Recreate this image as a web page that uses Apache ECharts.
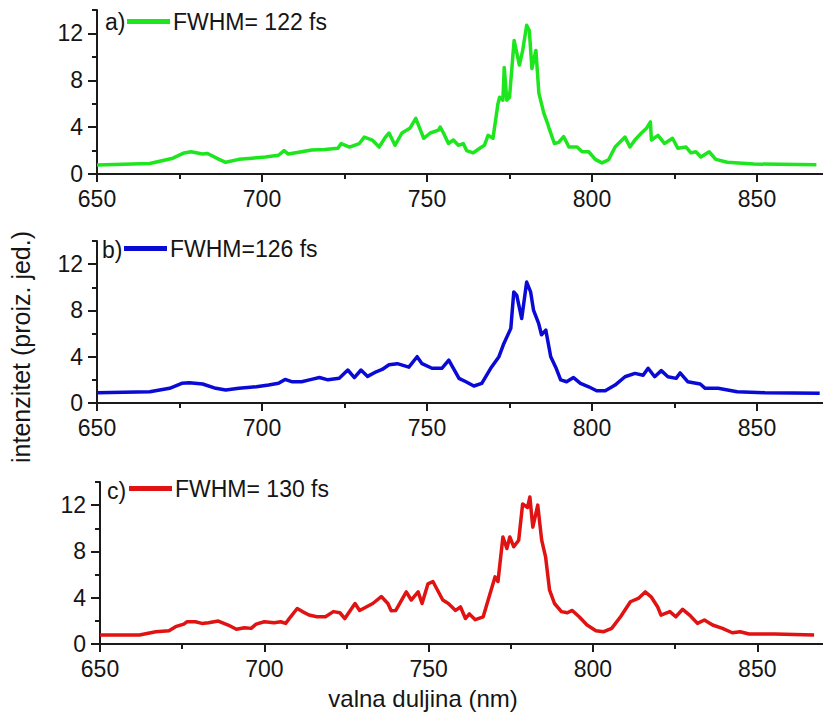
<!DOCTYPE html>
<html>
<head>
<meta charset="utf-8">
<script src="https://cdn.jsdelivr.net/npm/echarts@6/dist/echarts.min.js"></script>
<style>
html,body{margin:0;padding:0;background:#fff;}
#c{width:823px;height:713px;}
</style>
</head>
<body>
<div id="c"></div>
<script>
// ---- data ----
const wlA = [650,666,673,676.4,678.5,682,683.5,687,689,693,697,701,705,706.7,708,712,715,719,723,724,726.5,729.5,731,733.4,735.5,737.4,738.5,740.3,742.4,744.8,746.6,747.8,749,751,753.5,754,755,756.5,758,759.5,761,762,764,766,767.4,768.5,770,771.5,772,773,773.4,774.2,775,776.4,778,779,780.2,781,781.8,783,783.9,785.4,786.5,787,788.6,789.9,791.4,793,795.5,797,799,801,803,805,807,810,811.5,813,815,816.5,817.7,818,820,822,824.4,826,828.5,830,831.5,833,835.5,837.5,841,849,868];
const intA = [0.77,0.9,1.35,1.8,1.9,1.7,1.75,1.25,1.0,1.25,1.35,1.45,1.6,2.0,1.7,1.9,2.05,2.1,2.2,2.6,2.3,2.6,3.15,2.9,2.3,3.15,3.5,2.45,3.5,3.9,4.75,3.9,3.05,3.5,3.75,4.0,3.5,2.6,2.9,2.45,2.6,2.0,1.8,2.2,2.45,3.3,3.05,6.0,6.55,6.3,9.1,6.3,6.55,11.4,9.3,10.55,12.7,12.25,9.0,10.55,6.9,5.2,4.35,3.9,2.6,2.7,3.2,2.3,2.3,1.9,1.9,1.25,0.95,1.2,2.3,3.15,2.3,2.9,3.5,3.9,4.45,2.9,3.3,2.6,3.05,2.2,2.3,1.8,1.9,1.45,1.9,1.25,1.0,0.85,0.8];

const wlB = [650,666,672,675.7,678,682,686,689,693,698.3,702,705,707,709,712,715,717.4,720,723.4,726,728,730,732,734.6,736.4,738.5,741,744.5,747,748.5,751.5,754.5,756.6,758,759.7,761.8,764.2,766.6,769.3,771.8,773.3,775.4,776.3,777.2,778.7,780.2,781.4,782.3,783.8,784.7,786,787.5,789,790.5,792.3,794.4,796.5,799,801.4,804,807,810,813,815.5,817,819,821,823,825.5,826.7,829,832.8,834.3,838.2,844,852.4,869];
const intB = [0.89,0.97,1.27,1.7,1.75,1.64,1.27,1.12,1.27,1.4,1.55,1.7,2.04,1.84,1.84,2.04,2.2,2.0,2.13,2.85,2.2,2.85,2.3,2.7,2.9,3.3,3.4,3.1,4.0,3.4,3.0,3.0,3.7,3.0,2.13,1.84,1.47,1.7,3.0,4.0,5.15,6.45,9.6,9.3,7.3,10.45,9.6,8.0,6.9,5.9,6.3,4.0,3.1,2.0,1.84,2.2,1.7,1.4,1.06,1.06,1.55,2.27,2.56,2.4,3.0,2.27,2.8,2.27,2.13,2.6,1.84,1.64,1.27,1.27,0.97,0.89,0.84];

const wlC = [650,662,667,671,673,675.5,676.5,679,681,683,686,689,691.5,694,696,697.5,700,703,705,706.5,708,710,711.6,713.6,716,718.6,721,723,724.5,727.6,729,731,733,735.6,737.6,738.6,740,743.2,744.7,746.8,748,749.8,751.3,754.3,756,758.2,759.7,761.2,762.4,764.2,766.6,768.7,770.2,771.1,772.6,773.8,774.7,775.9,777.4,778.6,780.1,780.8,781.7,783.2,784.4,785.6,786.8,788.3,790.4,792.2,793.7,795.8,798.2,800.9,803.3,805.7,808.4,811.4,813.8,815.9,817.7,819.7,820.7,823.4,825.2,827.3,829.4,831.8,833.9,836.4,839.4,842.4,844.8,847.5,855.3,867.3];
const intC = [0.78,0.78,1.06,1.15,1.5,1.72,1.92,1.92,1.78,1.84,1.98,1.64,1.27,1.4,1.35,1.72,1.92,1.84,1.92,1.78,2.35,3.07,2.8,2.5,2.35,2.35,2.8,2.7,2.2,3.5,2.9,3.2,3.5,4.1,3.5,2.87,2.9,4.5,3.8,4.5,3.5,5.2,5.4,3.8,3.5,2.9,3.2,2.2,2.6,2.1,2.35,4.37,5.8,5.4,9.25,8.25,9.25,8.4,8.97,12.1,11.8,12.7,10.1,12.0,8.97,7.5,4.65,3.5,2.8,2.7,2.9,2.35,1.64,1.15,1.06,1.35,2.35,3.65,3.94,4.5,4.08,3.2,2.5,2.8,2.35,3.0,2.5,1.78,2.07,1.64,1.35,0.97,1.06,0.86,0.86,0.78];

const seriesNames = ['FWHM= 122 fs', 'FWHM=126 fs', 'FWHM= 130 fs'];
const panelTags = ['a)', 'b)', 'c)'];
const xMajorTicks = [650, 700, 750, 800, 850];
const xMinorTicks = [675, 725, 775, 825];
const yMajorTicks = [0, 4, 8, 12];
const yMinorTicks = [2, 6, 10, 14];
const xTitle = 'valna duljina (nm)';
const yTitle = 'intenzitet (proiz. jed.)';

// ---- layout / style ----
const FONT = '"Liberation Sans", Arial, Helvetica, sans-serif';
const TXT = '#151515';
const AX = '#1a1a1a';
const colors = ['#1ee61e', '#0a0ad6', '#e01212'];
const grids = [
  {left: 97, top: 10, width: 731.5, height: 164},
  {left: 97, top: 241, width: 728, height: 162},
  {left: 100, top: 482, width: 732, height: 162}
];
const legendPos = [
  {left: 122, top: 5},
  {left: 119, top: 232},
  {left: 124, top: 472}
];
const tagPos = [[105, 22], [102, 250], [107, 491]];
const XMIN = 650, XMAX = 870, YMIN = 0, YMAX = 14;

const pairs = (xs, ys) => xs.map((x, i) => [x, ys[i]]);
const allData = [pairs(wlA, intA), pairs(wlB, intB), pairs(wlC, intC)];

const xAxes = [], yAxes = [], series = [], legends = [], graphics = [];
for (let i = 0; i < 3; i++) {
  xAxes.push({
    gridIndex: i, type: 'value', position: 'bottom', min: XMIN, max: XMAX, offset: 0,
    axisLine: {onZero: false, lineStyle: {color: AX, width: 2}},
    axisTick: {customValues: xMajorTicks, length: 8, inside: false, lineStyle: {color: AX, width: 2}},
    axisLabel: {customValues: xMajorTicks, fontSize: 23, fontFamily: FONT, color: TXT, margin: 13},
    splitLine: {show: false}
  });
  xAxes.push({
    gridIndex: i, type: 'value', position: 'bottom', min: XMIN, max: XMAX, offset: 0,
    axisLine: {show: false},
    axisTick: {customValues: xMinorTicks, length: 5, lineStyle: {color: AX, width: 2}},
    axisLabel: {show: false},
    splitLine: {show: false}
  });
  yAxes.push({
    gridIndex: i, type: 'value', position: 'left', min: YMIN, max: YMAX, offset: 0,
    axisLine: {onZero: false, lineStyle: {color: AX, width: 2}},
    axisTick: {customValues: yMajorTicks, length: 9, lineStyle: {color: AX, width: 2}},
    axisLabel: {customValues: yMajorTicks, fontSize: 23, fontFamily: FONT, color: TXT, margin: 14},
    splitLine: {show: false}
  });
  yAxes.push({
    gridIndex: i, type: 'value', position: 'left', min: YMIN, max: YMAX, offset: 0,
    axisLine: {show: false},
    axisTick: {customValues: yMinorTicks, length: 5, lineStyle: {color: AX, width: 2}},
    axisLabel: {show: false},
    splitLine: {show: false}
  });
  series.push({
    name: seriesNames[i], type: 'line', xAxisIndex: 2 * i, yAxisIndex: 2 * i,
    data: allData[i], showSymbol: false, symbol: 'none', smooth: false,
    lineStyle: {color: colors[i], width: 3.5, join: 'round'},
    itemStyle: {color: colors[i]},
    emphasis: {disabled: true}, silent: true
  });
  legends.push({
    data: [seriesNames[i]], left: legendPos[i].left, top: legendPos[i].top,
    icon: 'rect', itemWidth: 43, itemHeight: 5, selectedMode: false,
    textStyle: {fontSize: 23, fontFamily: FONT, color: TXT, padding: [0, 0, 0, -2]}
  });
  graphics.push({
    type: 'text', x: tagPos[i][0], y: tagPos[i][1], silent: true,
    style: {text: panelTags[i], font: '23px ' + FONT, fill: TXT, textAlign: 'left', textVerticalAlign: 'middle'}
  });
}
graphics.push({
  type: 'text', x: 423, y: 698, silent: true,
  style: {text: xTitle, font: '24px ' + FONT, fill: TXT, textAlign: 'center', textVerticalAlign: 'middle'}
});
graphics.push({
  type: 'text', x: 21, y: 347, rotation: Math.PI / 2, silent: true,
  style: {text: yTitle, font: '25px ' + FONT, fill: TXT, textAlign: 'center', textVerticalAlign: 'middle'}
});

const chart = echarts.init(document.getElementById('c'), null, {renderer: 'svg', width: 823, height: 713});
chart.setOption({
  backgroundColor: '#ffffff',
  animation: false,
  grid: grids,
  xAxis: xAxes,
  yAxis: yAxes,
  legend: legends,
  series: series,
  graphic: graphics
});
</script>
</body>
</html>
